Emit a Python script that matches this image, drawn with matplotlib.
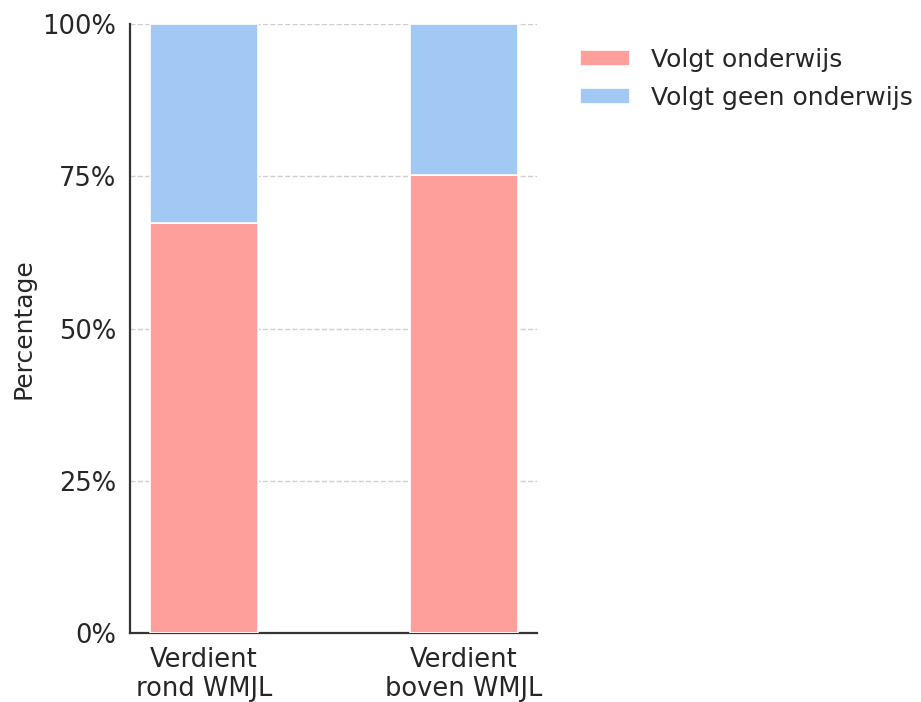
import numpy as np
import matplotlib
matplotlib.use('agg')
import matplotlib.pyplot as plt

# data
categories = ['Verdient\nrond WMJL', 'Verdient\nboven WMJL']
volgt_onderwijs = [67.3, 75.2]
geen_onderwijs = [32.7, 24.8]

plt.rcParams['font.family'] = ['DejaVu Sans']

fig = plt.figure(figsize=(9.21, 7.02), dpi=100)
ax = fig.add_axes([0.141, 0.098, 0.442, 0.868])

x = np.arange(len(categories))
ax.bar(x, volgt_onderwijs, width=0.415, color='#ff9f9b', edgecolor='white',
       linewidth=1.2, label='Volgt onderwijs', zorder=3)
ax.bar(x, geen_onderwijs, width=0.415, bottom=volgt_onderwijs, color='#a1c9f4',
       edgecolor='white', linewidth=1.2, label='Volgt geen onderwijs', zorder=3)

ax.set_xlim(-0.285, 1.28)
ax.set_ylim(0, 100)
ax.set_yticks([0, 25, 50, 75, 100])
ax.set_yticklabels(['0%', '25%', '50%', '75%', '100%'])
ax.set_xticks(x)
ax.set_xticklabels(categories, linespacing=1.15)
ax.tick_params(axis='both', length=0, labelsize=18.5, colors='#262626')
ax.tick_params(axis='y', pad=10)
ax.tick_params(axis='x', pad=10)
ax.set_ylabel('Percentage', fontsize=18, color='#262626', labelpad=5)

ax.yaxis.grid(True, linestyle='--', color='#cfcfcf', linewidth=1, zorder=0)
ax.spines['top'].set_visible(False)
ax.spines['right'].set_visible(False)
ax.spines['left'].set_color('#333333')
ax.spines['bottom'].set_color('#333333')
ax.spines['left'].set_linewidth(1.6)
ax.spines['bottom'].set_linewidth(1.6)

ax.legend(loc='upper left', bbox_to_anchor=(1.05, 0.998), frameon=False,
          fontsize=18, handlelength=2.0, handleheight=0.6, handletextpad=0.85,
          labelspacing=0.56, labelcolor='#262626')

plt.savefig('out.png', dpi=100)
